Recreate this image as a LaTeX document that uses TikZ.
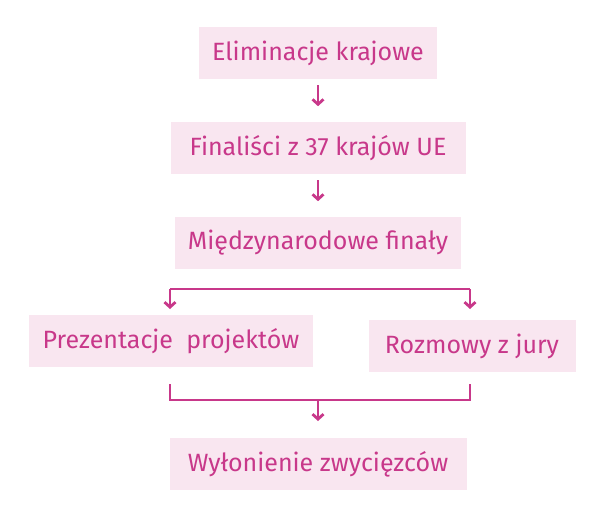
\documentclass[tikz,border=0pt]{standalone}
\usepackage{fontspec}
\setmainfont{Fira Sans}
\usetikzlibrary{arrows.meta}
\definecolor{magenta}{HTML}{C8388A}
\definecolor{pinkfill}{HTML}{F9E6F0}
\tikzset{ box/.style = { fill = pinkfill
                       , text = magenta
                       , inner sep    = 0pt
                       , minimum height = 52pt
                       , font = \fontsize{25}{30}\selectfont
                       },
          link/.style = { draw = magenta
                        , line width = 2.8pt
                        },
          arr/.style = { link
                       , -{Straight Barb[length=5pt,width=11pt]}
                       }
        }
\begin{document}
\begin{tikzpicture}[x=1pt,y=-1pt]
    \useasboundingbox (0,0) rectangle (605,525);
    \node[box, minimum width=238pt] (elim) at (318,53)  {Eliminacje krajowe};
    \node[box, minimum width=295pt] (fin)  at (318,148) {Finaliści z 37 krajów UE};
    \node[box, minimum width=286pt] (mf)   at (318,243) {Międzynarodowe finały};
    \node[box, minimum width=284pt] (prez) at (171,341) {Prezentacje\ \ projektów};
    \node[box, minimum width=207pt] (rozm) at (472,346) {Rozmowy z jury};
    \node[box, minimum width=297pt] (wyl)  at (318,464) {Wyłonienie zwycięzców};
    % vertical steps
    \draw[arr] (elim.south) ++(0,6) -- ++(0,21);
    \draw[arr] (fin.south)  ++(0,6) -- ++(0,21);
    % split
    \coordinate (sl) at (170,289);
    \coordinate (sr) at (470,289);
    \draw[link] (sl) -- (sr);
    \draw[arr] (sl) -- ++(0,20);
    \draw[arr] (sr) -- ++(0,20);
    % join
    \coordinate (jl) at (170,384);
    \coordinate (jr) at (470,384);
    \coordinate (jm) at (318,400);
    \draw[link] (jl) |- (jm) -| (jr);
    \draw[arr] (jm) -- ++(0,21);
\end{tikzpicture}
\end{document}
